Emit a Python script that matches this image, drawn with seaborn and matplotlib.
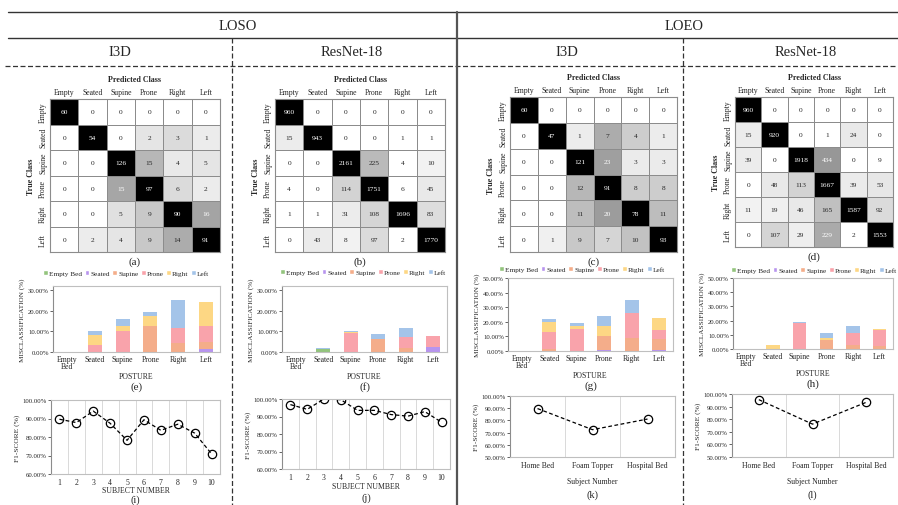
import numpy as np
import pandas as pd
import matplotlib
matplotlib.use('Agg')
import matplotlib.pyplot as plt
from matplotlib.colors import LinearSegmentedColormap
from matplotlib.patches import Patch
from matplotlib.lines import Line2D
from matplotlib.ticker import FuncFormatter
import seaborn as sns

# ---- data ----
classes = ['Empty', 'Seated', 'Supine', 'Prone', 'Right', 'Left']
postures = ['Empty\nBed', 'Seated', 'Supine', 'Prone', 'Right', 'Left']
pred_names = ['Empty Bed', 'Seated', 'Supine', 'Prone', 'Right', 'Left']

# confusion matrices (rows = true class, cols = predicted class)
cm_loso_i3d = [[60, 0, 0, 0, 0, 0],
               [0, 54, 0, 2, 3, 1],
               [0, 0, 126, 15, 4, 5],
               [0, 0, 15, 97, 6, 2],
               [0, 0, 5, 9, 90, 16],
               [0, 2, 4, 9, 14, 91]]
cm_loso_resnet = [[960, 0, 0, 0, 0, 0],
                  [15, 943, 0, 0, 1, 1],
                  [0, 0, 2161, 225, 4, 10],
                  [4, 0, 114, 1751, 6, 45],
                  [1, 1, 31, 108, 1696, 83],
                  [0, 43, 8, 97, 2, 1770]]
cm_loeo_i3d = [[60, 0, 0, 0, 0, 0],
               [0, 47, 1, 7, 4, 1],
               [0, 0, 121, 23, 3, 3],
               [0, 0, 12, 91, 8, 8],
               [0, 0, 11, 20, 78, 11],
               [0, 1, 9, 7, 10, 93]]
cm_loeo_resnet = [[960, 0, 0, 0, 0, 0],
                  [15, 920, 0, 1, 24, 0],
                  [39, 0, 1918, 434, 0, 9],
                  [0, 48, 113, 1667, 39, 53],
                  [11, 19, 46, 165, 1587, 92],
                  [0, 107, 29, 229, 2, 1553]]

# misclassification (%) - rows = predicted class, cols = true posture
mis_loso_i3d = [[0, 0, 0, 0, 0, 0],
                [0, 0, 0, 0, 0, 1.67],
                [0, 0, 0, 12.5, 4.17, 3.33],
                [0, 3.33, 10.0, 0, 7.5, 7.5],
                [0, 5.0, 2.67, 5.0, 0, 11.67],
                [0, 1.67, 3.33, 1.67, 13.33, 0]]
mis_loso_resnet = [[0, 1.56, 0, 0.21, 0.05, 0],
                   [0, 0, 0, 0, 0.05, 2.24],
                   [0, 0, 0, 5.94, 1.61, 0.42],
                   [0, 0, 9.38, 0, 5.63, 5.05],
                   [0, 0.10, 0.17, 0.31, 0, 0.10],
                   [0, 0.10, 0.42, 2.34, 4.32, 0]]
mis_loeo_i3d = [[0, 0, 0, 0, 0, 0],
                [0, 0, 0, 0.5, 0, 0.83],
                [0, 1.67, 0, 10.0, 9.17, 7.5],
                [0, 11.67, 15.33, 0, 16.67, 5.83],
                [0, 6.67, 2.0, 6.67, 0, 8.33],
                [0, 1.67, 2.0, 6.67, 9.17, 0]]
mis_loeo_resnet = [[0, 0, 0, 0, 0, 0],
                   [0, 0, 0, 0, 0, 0],
                   [0, 0, 0, 6.0, 3.0, 2.0],
                   [0, 0, 18.1, 0, 8.0, 11.3],
                   [0, 2.8, 0, 2.0, 0, 0.5],
                   [0, 0, 0.6, 3.0, 5.0, 0]]

subjects = list(range(1, 11))
f1_loso_i3d = [89.6, 87.8, 94.0, 87.4, 78.2, 89.3, 83.6, 86.9, 82.1, 70.9]
f1_loso_resnet = [96.8, 94.1, 100.0, 99.6, 93.5, 93.5, 91.1, 90.2, 92.8, 86.7]
beds = ['Home Bed', 'Foam Topper', 'Hospital Bed']
f1_loeo_i3d = [89.7, 72.4, 81.1]
f1_loeo_resnet = [95.5, 76.1, 93.4]

bar_colors = ['#93c47d', '#b794ee', '#f4ad8a', '#f9a3ab', '#fdd784', '#a4c4e9']

# ---- style ----
sns.set_style('white')
plt.rcParams['font.family'] = ['Liberation Serif', 'DejaVu Serif']
W, H = 898, 506
fig = plt.figure(figsize=(W / 100, H / 100), dpi=100)


def rect(l, t, r, b):
    return [l / W, 1 - b / H, (r - l) / W, (b - t) / H]


def ftext(x, y, s, **kw):
    kw.setdefault('ha', 'center')
    kw.setdefault('va', 'center')
    fig.text(x / W, 1 - y / H, s, **kw)


def hline(y, x0, x1, **kw):
    fig.add_artist(Line2D([x0 / W, x1 / W], [1 - y / H, 1 - y / H], transform=fig.transFigure, **kw))


def vline(x, y0, y1, **kw):
    fig.add_artist(Line2D([x / W, x / W], [1 - y0 / H, 1 - y1 / H], transform=fig.transFigure, **kw))


grey_map = LinearSegmentedColormap.from_list('cm', [
    (0.0, '#ffffff'), (0.003, '#f2f2f2'), (0.03, '#e6e6e6'), (0.06, '#d2d2d2'),
    (0.12, '#a8a8a8'), (0.2, '#929292'), (0.35, '#404040'), (0.5, '#000000'), (1.0, '#000000')])


def draw_matrix(box, counts, tag):
    l, t, r, b = box
    ax = fig.add_axes(rect(*box))
    counts = np.array(counts)
    share = counts / counts.sum(axis=1, keepdims=True)
    sns.heatmap(share, annot=counts, fmt='d', cmap=grey_map, vmin=0, vmax=1, cbar=False,
                linewidths=0.6, linecolor='#8c8c8c', annot_kws={'fontsize': 5.3},
                xticklabels=classes, yticklabels=classes, ax=ax)
    ax.xaxis.tick_top()
    ax.tick_params(length=0, labelsize=5.6, pad=2)
    plt.setp(ax.get_yticklabels(), rotation=90, va='center')
    plt.setp(ax.get_xticklabels(), rotation=0)
    for s in ax.spines.values():
        s.set_visible(True)
        s.set_color('#8c8c8c')
        s.set_linewidth(0.8)
    ftext((l + r) / 2, t - 20, 'Predicted Class', fontsize=5.8, fontweight='bold')
    ftext(l - 19, (t + b) / 2, 'True Class', fontsize=5.8, fontweight='bold', rotation=90)
    ftext((l + r) / 2, b + 9, tag, fontsize=8)


def style_box(ax):
    for s in ax.spines.values():
        s.set_visible(True)
        s.set_color('#bfbfbf')
        s.set_linewidth(0.8)
    ax.spines['left'].set_color('#8c8c8c')


def draw_bars(box, values, ymax, step, tag, legend_x, legend_y):
    l, t, r, b = box
    ax = fig.add_axes(rect(*box))
    values = np.array(values)
    df = pd.DataFrame({
        'posture': np.tile(np.arange(6), 6),
        'predicted': np.repeat(pred_names, 6),
        'value': values.ravel(),
    })
    sns.histplot(data=df, x='posture', weights='value', hue='predicted',
                 hue_order=pred_names[::-1], palette=dict(zip(pred_names, bar_colors)),
                 multiple='stack', discrete=True, shrink=0.5, linewidth=0, alpha=1,
                 legend=False, ax=ax)
    ax.set_xlim(-0.5, 5.5)
    ax.set_ylim(0, ymax)
    ax.set_yticks(np.arange(0, ymax + 0.01, step))
    ax.yaxis.set_major_formatter(FuncFormatter(lambda v, p: f'{v:.2f}%'))
    ax.set_xticks(range(6))
    ax.set_xticklabels(postures, fontsize=5.6, linespacing=0.95)
    ax.tick_params(axis='y', labelsize=4.9, length=2, width=0.5, pad=1, left=True)
    ax.tick_params(axis='x', length=0, pad=2)
    ax.set_xlabel('')
    ax.set_ylabel('MISCLASSIFICATION (%)', fontsize=5.2, labelpad=2)
    style_box(ax)
    handles = [Patch(facecolor=c, label=n) for n, c in zip(pred_names, bar_colors)]
    fig.legend(handles=handles, loc='center', bbox_to_anchor=(legend_x / W, 1 - legend_y / H),
               ncol=6, fontsize=5.2, frameon=False, handlelength=0.65, handleheight=0.65,
               handletextpad=0.15, columnspacing=0.35, borderaxespad=0)
    ftext((l + r) / 2, b + 24, 'POSTURE', fontsize=5.6)
    ftext((l + r) / 2, b + 34, tag, fontsize=8)


def draw_lines(box, labels, values, ymin, xtitle, title_y, tag, tag_y):
    l, t, r, b = box
    ax = fig.add_axes(rect(*box))
    xs = np.arange(len(labels))
    sns.lineplot(x=xs, y=values, ax=ax, color='black', linestyle=(0, (3, 2)), linewidth=0.9,
                 marker='o', markersize=6, markerfacecolor='none', markeredgecolor='black',
                 markeredgewidth=0.9)
    for g in xs[:-1] + 0.5:
        ax.axvline(g, color='#d9d9d9', linewidth=0.7, zorder=0)
    ax.set_xlim(-0.5, len(labels) - 0.5)
    ax.set_ylim(ymin, 100)
    ax.set_yticks(np.arange(ymin, 100.1, 10))
    ax.yaxis.set_major_formatter(FuncFormatter(lambda v, p: f'{v:.2f}%'))
    ax.set_xticks(xs)
    ax.set_xticklabels(labels, fontsize=5.6)
    ax.tick_params(axis='y', labelsize=4.9, length=2, width=0.5, pad=1, left=True)
    ax.tick_params(axis='x', length=0, pad=3)
    ax.set_ylabel('F1-SCORE (%)', fontsize=5.4, labelpad=2)
    style_box(ax)
    ftext((l + r) / 2, title_y, xtitle, fontsize=5.6)
    ftext((l + r) / 2, tag_y, tag, fontsize=7.5)


# ---- panel frame ----
hline(13, 8, W, color='#333333', linewidth=1.0)
hline(39, 8, W, color='#333333', linewidth=1.0)
hline(67, 5, W, color='#333333', linewidth=0.9, linestyle=(0, (4, 2)))
vline(457, 13, H, color='#555555', linewidth=1.6)
vline(232, 39, H, color='#333333', linewidth=0.9, linestyle=(0, (4, 2)))
vline(683, 39, H, color='#333333', linewidth=0.9, linestyle=(0, (4, 2)))

ftext(238, 27, 'LOSO', fontsize=10.5)
ftext(684, 27, 'LOEO', fontsize=10.5)
ftext(120, 53, 'I3D', fontsize=10.5)
ftext(352, 53, 'ResNet-18', fontsize=10.5)
ftext(567, 53, 'I3D', fontsize=10.5)
ftext(806, 53, 'ResNet-18', fontsize=10.5)

# ---- confusion matrices ----
draw_matrix((50, 100, 220, 253), cm_loso_i3d, '(a)')
draw_matrix((275, 100, 445, 253), cm_loso_resnet, '(b)')
draw_matrix((510, 98, 677, 253), cm_loeo_i3d, '(c)')
draw_matrix((735, 98, 893, 248), cm_loeo_resnet, '(d)')

# ---- misclassification bars ----
draw_bars((53, 287, 220, 353), mis_loso_i3d, 32, 10, '(e)', 126, 274)
draw_bars((282, 287, 447, 353), mis_loso_resnet, 32, 10, '(f)', 363, 273)
draw_bars((508, 279, 673, 352), mis_loeo_i3d, 50, 10, '(g)', 582, 270)
draw_bars((733, 279, 893, 350), mis_loeo_resnet, 50, 10, '(h)', 814, 271)

# ---- F1 scores ----
draw_lines((51, 401, 220, 475), subjects, f1_loso_i3d, 60, 'SUBJECT NUMBER', 491, '(i)', 500)
draw_lines((282, 400, 450, 470), subjects, f1_loso_resnet, 60, 'SUBJECT NUMBER', 487, '(j)', 498)
draw_lines((510, 397, 675, 458), beds, f1_loeo_i3d, 50, 'Subject Number', 482, '(k)', 495)
draw_lines((732, 395, 893, 458), beds, f1_loeo_resnet, 50, 'Subject Number', 482, '(l)', 495)

fig.savefig('out.png', dpi=100)
